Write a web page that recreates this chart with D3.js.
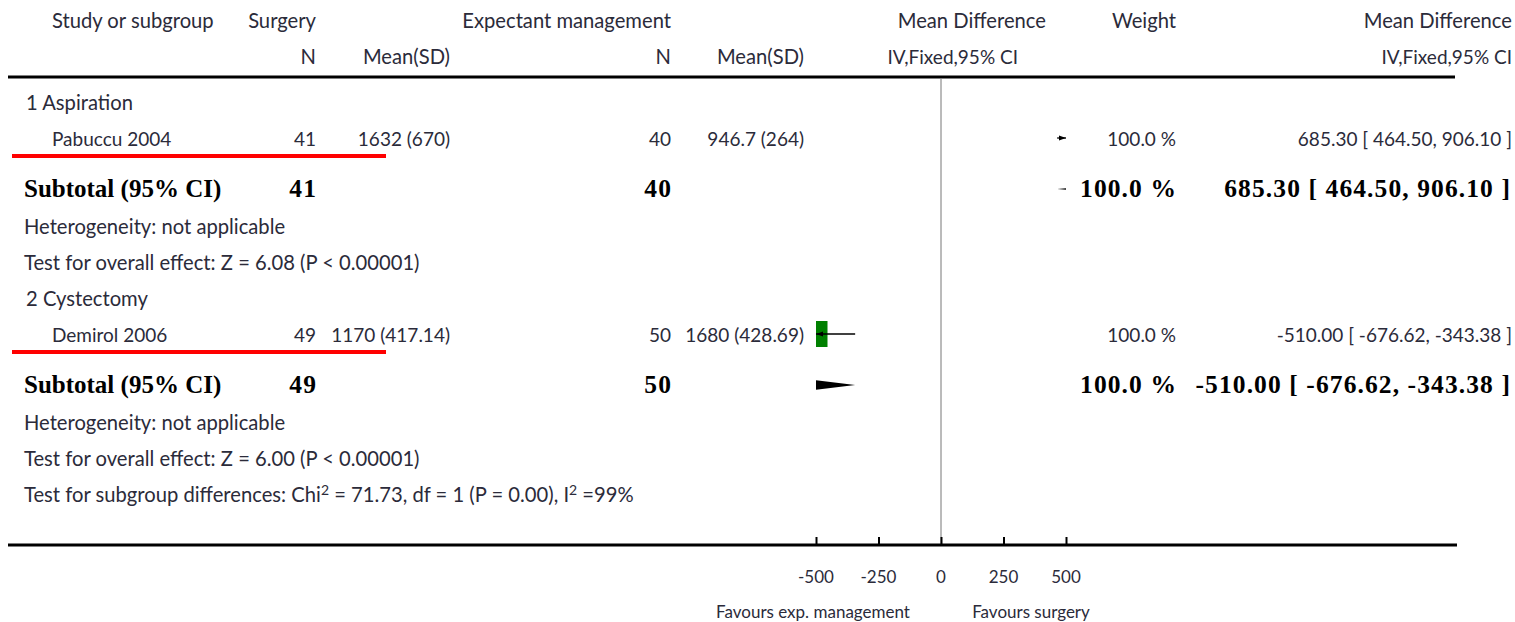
<!DOCTYPE html>
<html><head><meta charset="utf-8">
<script src="https://cdn.jsdelivr.net/npm/d3@7"></script>
<style>
body{margin:0;background:#fff;}
svg{display:block;}
.t{font-family:Lato,"Open Sans",sans-serif;font-size:19px;fill:#2b2b3a;}
.w{font-family:Lato,"Open Sans",sans-serif;font-size:20.2px;fill:#2b2b3a;}
.f{font-family:Lato,"Open Sans",sans-serif;font-size:17px;fill:#2b2b3a;}
.b{font-family:"Liberation Serif","DejaVu Serif",serif;font-size:25px;font-weight:bold;fill:#000;}
.bn{font-family:"Liberation Serif","DejaVu Serif",serif;font-size:25.5px;font-weight:bold;fill:#000;letter-spacing:1.1px;}
</style></head>
<body>
<svg id="c" width="1515" height="622"></svg>
<script>
// ---- data ----
const groups = ["1 Aspiration", "2 Cystectomy"];
const studies = ["Pabuccu 2004", "Demirol 2006"];
const surgN = [41, 49];
const surgMeanSD = ["1632 (670)", "1170 (417.14)"];
const expN = [40, 50];
const expMeanSD = ["946.7 (264)", "1680 (428.69)"];
const md = [685.30, -510.00];
const mdLo = [464.50, -676.62];
const mdHi = [906.10, -343.38];
const weight = ["100.0 %", "100.0 %"];
const ciText = ["685.30 [ 464.50, 906.10 ]", "-510.00 [ -676.62, -343.38 ]"];
const heterogeneity = ["Heterogeneity: not applicable", "Heterogeneity: not applicable"];
const overall = ["Test for overall effect: Z = 6.08 (P < 0.00001)", "Test for overall effect: Z = 6.00 (P < 0.00001)"];
const tickValues = [-500, -250, 0, 250, 500];
const favours = ["Favours exp. management", "Favours surgery"];

const svg = d3.select("#c");
const x = d3.scaleLinear().domain([-500, 500]).range([816, 1066]);

function txt(xp, yp, s, cls, anchor){
  return svg.append("text").attr("class", cls||"t").attr("x", xp).attr("y", yp)
    .attr("text-anchor", anchor||"start").text(s);
}

// header
txt(52, 28, "Study or subgroup", "w");
txt(316, 28, "Surgery", "w", "end");
txt(671, 28, "Expectant management", "w", "end");
txt(1046, 28, "Mean Difference", "w", "end");
txt(1176, 28, "Weight", "w", "end");
txt(1512, 28, "Mean Difference", "w", "end");
txt(316, 64, "N", "w", "end");
txt(450, 64, "Mean(SD)", "w", "end");
txt(671, 64, "N", "w", "end");
txt(804, 64, "Mean(SD)", "w", "end");
txt(1018, 64, "IV,Fixed,95% CI", "t", "end");
txt(1512, 64, "IV,Fixed,95% CI", "t", "end");

svg.append("line").attr("x1", 8).attr("x2", 1455).attr("y1", 77).attr("y2", 77)
  .attr("stroke", "#000").attr("stroke-width", 3);

// zero line
svg.append("line").attr("x1", x(0)).attr("x2", x(0)).attr("y1", 79).attr("y2", 544)
  .attr("stroke", "#777").attr("stroke-width", 1);

const defs = svg.append("defs");
defs.append("clipPath").attr("id", "plotclip").append("rect")
  .attr("x", x(-500)).attr("y", 0).attr("width", x(500) - x(-500)).attr("height", 622);

const groupTop = [103, 299];
groups.forEach((g, i) => {
  const y0 = groupTop[i];
  txt(26, y0 + 7, g, "w");
  const yS = y0 + 36;
  txt(52, yS + 7, studies[i], "t");
  txt(316, yS + 7, surgN[i], "t", "end");
  txt(450, yS + 7, surgMeanSD[i], "t", "end");
  txt(671, yS + 7, expN[i], "t", "end");
  txt(804, yS + 7, expMeanSD[i], "t", "end");
  txt(1176, yS + 7, weight[i], "t", "end");
  txt(1512, yS + 7, ciText[i], "t", "end");
  // red underline
  svg.append("line").attr("x1", 12).attr("x2", 386).attr("y1", yS + 17).attr("y2", yS + 17)
    .attr("stroke", "#f00").attr("stroke-width", 4);

  // study mark
  const gp = svg.append("g").attr("clip-path", "url(#plotclip)");
  const lo = Math.max(mdLo[i], -500), hi = Math.min(mdHi[i], 500);
  gp.append("rect").attr("x", x(md[i]) - 14).attr("y", yS - 14).attr("width", 28).attr("height", 26)
    .attr("fill", "#008000");
  gp.append("line").attr("x1", x(lo)).attr("x2", x(hi)).attr("y1", yS - 1).attr("y2", yS - 1)
    .attr("stroke", "#000").attr("stroke-width", 1.3);
  if (mdHi[i] > 500) {
    svg.append("path").attr("d", `M${x(500)},${yS-1} l-7,-2.5 l0,5 z`).attr("fill", "#000");
  }
  if (mdLo[i] < -500) {
    svg.append("path").attr("d", `M${x(-500)},${yS-1} l7,-2.5 l0,5 z`).attr("fill", "#000");
  }

  // subtotal
  const yT = y0 + 86;
  txt(24, yT + 8, "Subtotal (95% CI)", "b");
  txt(317, yT + 8, surgN[i], "bn", "end");
  txt(672, yT + 8, expN[i], "bn", "end");
  txt(1177, yT + 8, weight[i], "bn", "end");
  txt(1511, yT + 8, ciText[i], "bn", "end");
  const gd = svg.append("g").attr("clip-path", "url(#plotclip)");
  gd.append("path").attr("d",
    `M${x(mdLo[i])},${yT} L${x(md[i])},${yT-5} L${x(mdHi[i])},${yT} L${x(md[i])},${yT+5} Z`)
    .attr("fill", "#000");

  txt(24, yT + 45, heterogeneity[i], "w");
  txt(24, yT + 81, overall[i], "w");
});

// subgroup differences
const sd = txt(24, 502, "Test for subgroup differences: Chi", "w");
sd.append("tspan").attr("font-size", "14px").attr("dy", -7).text("2");
sd.append("tspan").attr("dy", 7).text(" = 71.73, df = 1 (P = 0.00), I");
sd.append("tspan").attr("font-size", "14px").attr("dy", -7).text("2");
sd.append("tspan").attr("dy", 7).text(" =99%");

// axis
svg.append("line").attr("x1", 8).attr("x2", 1457).attr("y1", 545).attr("y2", 545)
  .attr("stroke", "#000").attr("stroke-width", 3);
const ax = svg.append("g").attr("transform", "translate(0,545)")
  .call(d3.axisTop(x).tickValues(tickValues).tickSize(8).tickFormat(""));
ax.select(".domain").remove();
ax.selectAll(".tick line").attr("stroke", "#000").attr("stroke-width", 2);
tickValues.forEach(v => txt(x(v), 583, v, "f", "middle"));
txt(813, 618, favours[0], "f", "middle");
txt(1031, 618, favours[1], "f", "middle");
</script>
</body></html>
